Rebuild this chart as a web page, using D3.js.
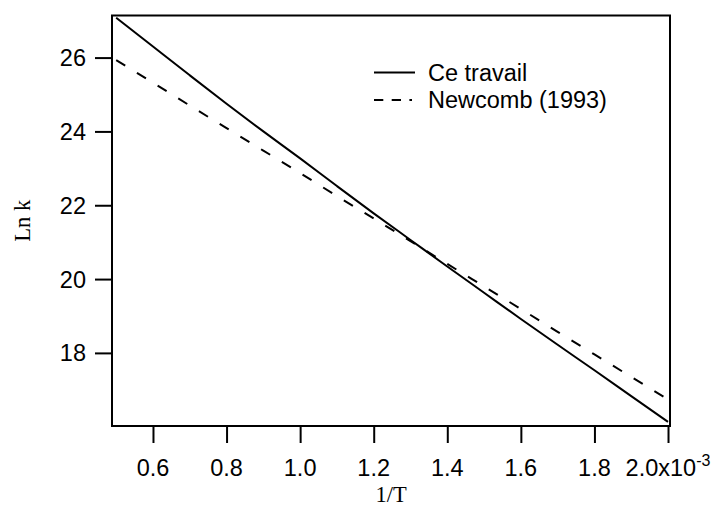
<!DOCTYPE html>
<html>
<head>
<meta charset="utf-8">
<script src="https://cdn.jsdelivr.net/npm/d3@7"></script>
<style>
  html, body { margin: 0; padding: 0; background: #fff; }
  svg { display: block; }
  .tick-label { font-family: "Liberation Sans", Arial, Helvetica, sans-serif; font-size: 23.5px; fill: #000; }
  .axis-title { font-family: "Liberation Serif", "Times New Roman", serif; font-size: 22.5px; fill: #000; }
  .legend-label { font-family: "Liberation Sans", Arial, Helvetica, sans-serif; font-size: 23.5px; fill: #000; }
</style>
</head>
<body>
<svg id="chart" width="711" height="506"></svg>
<script>
// 1/T in units of 1e-3 K^-1
const invT = [0.5, 0.6, 0.7, 0.8, 0.9, 1.0, 1.1, 1.2, 1.3, 1.4, 1.5, 1.6, 1.7, 1.8, 1.9, 2.0];
// ln k, this work
const lnkCeTravail = [27.08, 26.30, 25.52, 24.75, 24.00, 23.27, 22.52, 21.78, 21.06, 20.34, 19.63, 18.92, 18.22, 17.53, 16.83, 16.13];
// ln k, Newcomb (1993)
const lnkNewcomb = [25.93, 25.32, 24.70, 24.09, 23.48, 22.87, 22.25, 21.64, 21.03, 20.41, 19.80, 19.19, 18.57, 17.96, 17.35, 16.74];

const xTicks = [0.6, 0.8, 1.0, 1.2, 1.4, 1.6, 1.8, 2.0];
const xTickLabels = ["0.6", "0.8", "1.0", "1.2", "1.4", "1.6", "1.8", "2.0x10"];
const yTicks = [18, 20, 22, 24, 26];
const yTickLabels = ["18", "20", "22", "24", "26"];

const seriesNames = ["Ce travail", "Newcomb (1993)"];

const svg = d3.select("#chart");

const plot = { left: 112, right: 670, top: 15.5, bottom: 426 };

const x = d3.scaleLinear().domain([0.4886, 2.0054]).range([plot.left, plot.right]);
const y = d3.scaleLinear().domain([16.02, 27.14]).range([plot.bottom, plot.top]);

// frame
svg.append("rect")
  .attr("x", plot.left).attr("y", plot.top)
  .attr("width", plot.right - plot.left).attr("height", plot.bottom - plot.top)
  .attr("fill", "none").attr("stroke", "#000").attr("stroke-width", 2);

// bottom axis (ticks outside)
const xAxis = d3.axisBottom(x).tickValues(xTicks).tickSize(17).tickFormat("");
const gx = svg.append("g").attr("transform", `translate(0,${plot.bottom})`).call(xAxis);
gx.select(".domain").remove();
gx.selectAll(".tick line").attr("stroke", "#000").attr("stroke-width", 2);

// left axis (ticks outside)
const yAxis = d3.axisLeft(y).tickValues(yTicks).tickSize(17).tickFormat("");
const gy = svg.append("g").attr("transform", `translate(${plot.left},0)`).call(yAxis);
gy.select(".domain").remove();
gy.selectAll(".tick line").attr("stroke", "#000").attr("stroke-width", 2);

// x tick labels
const xl = svg.append("g").selectAll("text")
  .data(xTicks)
  .join("text")
  .attr("class", "tick-label")
  .attr("x", d => x(d))
  .attr("y", 476)
  .attr("text-anchor", "middle");
xl.append("tspan").text((d, i) => xTickLabels[i]);
xl.filter((d, i) => i === xTicks.length - 1)
  .append("tspan")
  .attr("dy", -10)
  .attr("font-size", "16px")
  .text("-3");

// y tick labels
svg.append("g").selectAll("text")
  .data(yTicks)
  .join("text")
  .attr("class", "tick-label")
  .attr("x", 86)
  .attr("y", d => y(d))
  .attr("dy", "0.36em")
  .attr("text-anchor", "end")
  .text((d, i) => yTickLabels[i]);

// axis titles
svg.append("text")
  .attr("class", "axis-title")
  .attr("transform", `translate(30,${(plot.top + plot.bottom) / 2}) rotate(-90)`)
  .attr("text-anchor", "middle")
  .text("Ln k");

svg.append("text")
  .attr("class", "axis-title")
  .attr("x", (plot.left + plot.right) / 2)
  .attr("y", 502)
  .attr("text-anchor", "middle")
  .text("1/T");

// curves
const line = d3.line().x(d => x(d[0])).y(d => y(d[1])).curve(d3.curveMonotoneX);

svg.append("path")
  .datum(invT.map((t, i) => [t, lnkCeTravail[i]]))
  .attr("d", line)
  .attr("fill", "none").attr("stroke", "#000").attr("stroke-width", 2);

svg.append("path")
  .datum(invT.map((t, i) => [t, lnkNewcomb[i]]))
  .attr("d", line)
  .attr("fill", "none").attr("stroke", "#000").attr("stroke-width", 2)
  .attr("stroke-dasharray", "10.6,13.7");

// legend
const legend = svg.append("g");
const legendRows = [
  { name: seriesNames[0], dash: null, ly: 72.5, x2: 415 },
  { name: seriesNames[1], dash: "9.3,8.4", ly: 100, x2: 412 }
];
legendRows.forEach(r => {
  legend.append("line")
    .attr("x1", 374).attr("x2", r.x2)
    .attr("y1", r.ly).attr("y2", r.ly)
    .attr("stroke", "#000").attr("stroke-width", 2)
    .attr("stroke-dasharray", r.dash);
  legend.append("text")
    .attr("class", "legend-label")
    .attr("x", 428)
    .attr("y", r.ly)
    .attr("dy", "0.36em")
    .text(r.name);
});
</script>
</body>
</html>
